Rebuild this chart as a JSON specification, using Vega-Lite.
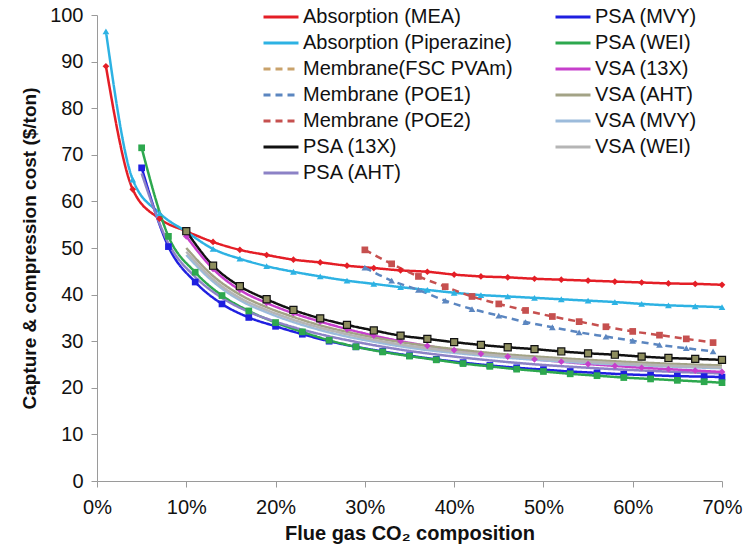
{
  "$schema": "https://vega.github.io/schema/vega-lite/v6.json",
  "width": 625,
  "height": 466,
  "autosize": "none",
  "padding": {"left": 97, "top": 15, "right": 27, "bottom": 75},
  "config": {
    "font": "Liberation Sans",
    "view": {"stroke": null},
    "axis": {"grid": false, "domainColor": "#9a9a9a", "tickColor": "#9a9a9a", "labelColor": "#111", "titleColor": "#111", "labelFontSize": 20, "titleFontWeight": "bold", "tickSize": 6}
  },
  "data": {"values": [
    {"series": "Absorption (MEA)", "co2": 1, "cost": 89},
    {"series": "Absorption (MEA)", "co2": 4, "cost": 62.6},
    {"series": "Absorption (MEA)", "co2": 7, "cost": 56.3},
    {"series": "Absorption (MEA)", "co2": 10, "cost": 53.6},
    {"series": "Absorption (MEA)", "co2": 13, "cost": 51.3},
    {"series": "Absorption (MEA)", "co2": 16, "cost": 49.6},
    {"series": "Absorption (MEA)", "co2": 19, "cost": 48.5},
    {"series": "Absorption (MEA)", "co2": 22, "cost": 47.5},
    {"series": "Absorption (MEA)", "co2": 25, "cost": 46.9},
    {"series": "Absorption (MEA)", "co2": 28, "cost": 46.2},
    {"series": "Absorption (MEA)", "co2": 31, "cost": 45.7},
    {"series": "Absorption (MEA)", "co2": 34, "cost": 45.2},
    {"series": "Absorption (MEA)", "co2": 37, "cost": 44.9},
    {"series": "Absorption (MEA)", "co2": 40, "cost": 44.3},
    {"series": "Absorption (MEA)", "co2": 43, "cost": 43.9},
    {"series": "Absorption (MEA)", "co2": 46, "cost": 43.7},
    {"series": "Absorption (MEA)", "co2": 49, "cost": 43.4},
    {"series": "Absorption (MEA)", "co2": 52, "cost": 43.2},
    {"series": "Absorption (MEA)", "co2": 55, "cost": 43.0},
    {"series": "Absorption (MEA)", "co2": 58, "cost": 42.8},
    {"series": "Absorption (MEA)", "co2": 61, "cost": 42.6},
    {"series": "Absorption (MEA)", "co2": 64, "cost": 42.4},
    {"series": "Absorption (MEA)", "co2": 67, "cost": 42.3},
    {"series": "Absorption (MEA)", "co2": 70, "cost": 42.1},
    {"series": "Absorption (Piperazine)", "co2": 1, "cost": 96.5},
    {"series": "Absorption (Piperazine)", "co2": 4, "cost": 64.7},
    {"series": "Absorption (Piperazine)", "co2": 7, "cost": 57.5},
    {"series": "Absorption (Piperazine)", "co2": 10, "cost": 53.5},
    {"series": "Absorption (Piperazine)", "co2": 13, "cost": 49.8},
    {"series": "Absorption (Piperazine)", "co2": 16, "cost": 47.7},
    {"series": "Absorption (Piperazine)", "co2": 19, "cost": 46.1},
    {"series": "Absorption (Piperazine)", "co2": 22, "cost": 44.9},
    {"series": "Absorption (Piperazine)", "co2": 25, "cost": 43.9},
    {"series": "Absorption (Piperazine)", "co2": 28, "cost": 43.0},
    {"series": "Absorption (Piperazine)", "co2": 31, "cost": 42.3},
    {"series": "Absorption (Piperazine)", "co2": 34, "cost": 41.6},
    {"series": "Absorption (Piperazine)", "co2": 37, "cost": 41.0},
    {"series": "Absorption (Piperazine)", "co2": 40, "cost": 40.4},
    {"series": "Absorption (Piperazine)", "co2": 43, "cost": 39.9},
    {"series": "Absorption (Piperazine)", "co2": 46, "cost": 39.6},
    {"series": "Absorption (Piperazine)", "co2": 49, "cost": 39.3},
    {"series": "Absorption (Piperazine)", "co2": 52, "cost": 39.0},
    {"series": "Absorption (Piperazine)", "co2": 55, "cost": 38.7},
    {"series": "Absorption (Piperazine)", "co2": 58, "cost": 38.4},
    {"series": "Absorption (Piperazine)", "co2": 61, "cost": 38.0},
    {"series": "Absorption (Piperazine)", "co2": 64, "cost": 37.7},
    {"series": "Absorption (Piperazine)", "co2": 67, "cost": 37.5},
    {"series": "Absorption (Piperazine)", "co2": 70, "cost": 37.3},
    {"series": "Membrane (POE2)", "co2": 30, "cost": 49.6},
    {"series": "Membrane (POE2)", "co2": 33, "cost": 46.6},
    {"series": "Membrane (POE2)", "co2": 36, "cost": 43.9},
    {"series": "Membrane (POE2)", "co2": 39, "cost": 41.7},
    {"series": "Membrane (POE2)", "co2": 42, "cost": 39.6},
    {"series": "Membrane (POE2)", "co2": 45, "cost": 38.0},
    {"series": "Membrane (POE2)", "co2": 48, "cost": 36.6},
    {"series": "Membrane (POE2)", "co2": 51, "cost": 35.3},
    {"series": "Membrane (POE2)", "co2": 54, "cost": 34.2},
    {"series": "Membrane (POE2)", "co2": 57, "cost": 33.1},
    {"series": "Membrane (POE2)", "co2": 60, "cost": 32.1},
    {"series": "Membrane (POE2)", "co2": 63, "cost": 31.3},
    {"series": "Membrane (POE2)", "co2": 66, "cost": 30.5},
    {"series": "Membrane (POE2)", "co2": 69, "cost": 29.7},
    {"series": "Membrane (POE1)", "co2": 30, "cost": 45.8},
    {"series": "Membrane (POE1)", "co2": 33, "cost": 43.0},
    {"series": "Membrane (POE1)", "co2": 36, "cost": 41.0},
    {"series": "Membrane (POE1)", "co2": 39, "cost": 38.7},
    {"series": "Membrane (POE1)", "co2": 42, "cost": 36.9},
    {"series": "Membrane (POE1)", "co2": 45, "cost": 35.5},
    {"series": "Membrane (POE1)", "co2": 48, "cost": 34.1},
    {"series": "Membrane (POE1)", "co2": 51, "cost": 33.0},
    {"series": "Membrane (POE1)", "co2": 54, "cost": 31.9},
    {"series": "Membrane (POE1)", "co2": 57, "cost": 31.0},
    {"series": "Membrane (POE1)", "co2": 60, "cost": 30.1},
    {"series": "Membrane (POE1)", "co2": 63, "cost": 29.2},
    {"series": "Membrane (POE1)", "co2": 66, "cost": 28.5},
    {"series": "Membrane (POE1)", "co2": 69, "cost": 27.8},
    {"series": "PSA (13X)", "co2": 10, "cost": 53.6},
    {"series": "PSA (13X)", "co2": 13, "cost": 46.2},
    {"series": "PSA (13X)", "co2": 16, "cost": 41.8},
    {"series": "PSA (13X)", "co2": 19, "cost": 39.0},
    {"series": "PSA (13X)", "co2": 22, "cost": 36.7},
    {"series": "PSA (13X)", "co2": 25, "cost": 34.9},
    {"series": "PSA (13X)", "co2": 28, "cost": 33.5},
    {"series": "PSA (13X)", "co2": 31, "cost": 32.3},
    {"series": "PSA (13X)", "co2": 34, "cost": 31.2},
    {"series": "PSA (13X)", "co2": 37, "cost": 30.5},
    {"series": "PSA (13X)", "co2": 40, "cost": 29.8},
    {"series": "PSA (13X)", "co2": 43, "cost": 29.2},
    {"series": "PSA (13X)", "co2": 46, "cost": 28.7},
    {"series": "PSA (13X)", "co2": 49, "cost": 28.3},
    {"series": "PSA (13X)", "co2": 52, "cost": 27.8},
    {"series": "PSA (13X)", "co2": 55, "cost": 27.4},
    {"series": "PSA (13X)", "co2": 58, "cost": 27.1},
    {"series": "PSA (13X)", "co2": 61, "cost": 26.7},
    {"series": "PSA (13X)", "co2": 64, "cost": 26.4},
    {"series": "PSA (13X)", "co2": 67, "cost": 26.2},
    {"series": "PSA (13X)", "co2": 70, "cost": 26.0},
    {"series": "PSA (MVY)", "co2": 5, "cost": 67.2},
    {"series": "PSA (MVY)", "co2": 8, "cost": 50.3},
    {"series": "PSA (MVY)", "co2": 11, "cost": 42.7},
    {"series": "PSA (MVY)", "co2": 14, "cost": 38.0},
    {"series": "PSA (MVY)", "co2": 17, "cost": 35.1},
    {"series": "PSA (MVY)", "co2": 20, "cost": 33.2},
    {"series": "PSA (MVY)", "co2": 23, "cost": 31.5},
    {"series": "PSA (MVY)", "co2": 26, "cost": 30.0},
    {"series": "PSA (MVY)", "co2": 29, "cost": 28.8},
    {"series": "PSA (MVY)", "co2": 32, "cost": 27.8},
    {"series": "PSA (MVY)", "co2": 35, "cost": 26.9},
    {"series": "PSA (MVY)", "co2": 38, "cost": 26.1},
    {"series": "PSA (MVY)", "co2": 41, "cost": 25.4},
    {"series": "PSA (MVY)", "co2": 44, "cost": 24.8},
    {"series": "PSA (MVY)", "co2": 47, "cost": 24.3},
    {"series": "PSA (MVY)", "co2": 50, "cost": 23.9},
    {"series": "PSA (MVY)", "co2": 53, "cost": 23.5},
    {"series": "PSA (MVY)", "co2": 56, "cost": 23.2},
    {"series": "PSA (MVY)", "co2": 59, "cost": 22.9},
    {"series": "PSA (MVY)", "co2": 62, "cost": 22.7},
    {"series": "PSA (MVY)", "co2": 65, "cost": 22.5},
    {"series": "PSA (MVY)", "co2": 68, "cost": 22.4},
    {"series": "PSA (MVY)", "co2": 70, "cost": 22.3},
    {"series": "PSA (WEI)", "co2": 5, "cost": 71.5},
    {"series": "PSA (WEI)", "co2": 8, "cost": 52.5},
    {"series": "PSA (WEI)", "co2": 11, "cost": 44.8},
    {"series": "PSA (WEI)", "co2": 14, "cost": 39.8},
    {"series": "PSA (WEI)", "co2": 17, "cost": 36.5},
    {"series": "PSA (WEI)", "co2": 20, "cost": 34.0},
    {"series": "PSA (WEI)", "co2": 23, "cost": 32.0},
    {"series": "PSA (WEI)", "co2": 26, "cost": 30.2},
    {"series": "PSA (WEI)", "co2": 29, "cost": 28.8},
    {"series": "PSA (WEI)", "co2": 32, "cost": 27.7},
    {"series": "PSA (WEI)", "co2": 35, "cost": 26.8},
    {"series": "PSA (WEI)", "co2": 38, "cost": 26.0},
    {"series": "PSA (WEI)", "co2": 41, "cost": 25.2},
    {"series": "PSA (WEI)", "co2": 44, "cost": 24.6},
    {"series": "PSA (WEI)", "co2": 47, "cost": 24.0},
    {"series": "PSA (WEI)", "co2": 50, "cost": 23.5},
    {"series": "PSA (WEI)", "co2": 53, "cost": 23.0},
    {"series": "PSA (WEI)", "co2": 56, "cost": 22.6},
    {"series": "PSA (WEI)", "co2": 59, "cost": 22.2},
    {"series": "PSA (WEI)", "co2": 62, "cost": 21.9},
    {"series": "PSA (WEI)", "co2": 65, "cost": 21.6},
    {"series": "PSA (WEI)", "co2": 68, "cost": 21.3},
    {"series": "PSA (WEI)", "co2": 70, "cost": 21.1},
    {"series": "PSA (AHT)", "co2": 5, "cost": 66},
    {"series": "PSA (AHT)", "co2": 8, "cost": 51},
    {"series": "PSA (AHT)", "co2": 11, "cost": 43.8},
    {"series": "PSA (AHT)", "co2": 14, "cost": 39.3},
    {"series": "PSA (AHT)", "co2": 17, "cost": 36.3},
    {"series": "PSA (AHT)", "co2": 20, "cost": 34.2},
    {"series": "PSA (AHT)", "co2": 25, "cost": 31.5},
    {"series": "PSA (AHT)", "co2": 30, "cost": 29.5},
    {"series": "PSA (AHT)", "co2": 35, "cost": 27.9},
    {"series": "PSA (AHT)", "co2": 40, "cost": 26.7},
    {"series": "PSA (AHT)", "co2": 45, "cost": 25.7},
    {"series": "PSA (AHT)", "co2": 50, "cost": 24.9},
    {"series": "PSA (AHT)", "co2": 55, "cost": 24.3},
    {"series": "PSA (AHT)", "co2": 60, "cost": 23.8},
    {"series": "PSA (AHT)", "co2": 65, "cost": 23.4},
    {"series": "PSA (AHT)", "co2": 70, "cost": 23.1},
    {"series": "VSA (13X)", "co2": 10, "cost": 52.5},
    {"series": "VSA (13X)", "co2": 13, "cost": 45.5},
    {"series": "VSA (13X)", "co2": 16, "cost": 41.0},
    {"series": "VSA (13X)", "co2": 19, "cost": 38.2},
    {"series": "VSA (13X)", "co2": 22, "cost": 36.0},
    {"series": "VSA (13X)", "co2": 25, "cost": 34.2},
    {"series": "VSA (13X)", "co2": 28, "cost": 32.6},
    {"series": "VSA (13X)", "co2": 31, "cost": 31.2},
    {"series": "VSA (13X)", "co2": 34, "cost": 30.0},
    {"series": "VSA (13X)", "co2": 37, "cost": 29.0},
    {"series": "VSA (13X)", "co2": 40, "cost": 28.1},
    {"series": "VSA (13X)", "co2": 43, "cost": 27.3},
    {"series": "VSA (13X)", "co2": 46, "cost": 26.7},
    {"series": "VSA (13X)", "co2": 49, "cost": 26.1},
    {"series": "VSA (13X)", "co2": 52, "cost": 25.6},
    {"series": "VSA (13X)", "co2": 55, "cost": 25.1},
    {"series": "VSA (13X)", "co2": 58, "cost": 24.7},
    {"series": "VSA (13X)", "co2": 61, "cost": 24.3},
    {"series": "VSA (13X)", "co2": 64, "cost": 24.0},
    {"series": "VSA (13X)", "co2": 67, "cost": 23.7},
    {"series": "VSA (13X)", "co2": 70, "cost": 23.4},
    {"series": "VSA (AHT)", "co2": 10, "cost": 50},
    {"series": "VSA (AHT)", "co2": 13, "cost": 44},
    {"series": "VSA (AHT)", "co2": 16, "cost": 40},
    {"series": "VSA (AHT)", "co2": 19, "cost": 37.3},
    {"series": "VSA (AHT)", "co2": 22, "cost": 35.2},
    {"series": "VSA (AHT)", "co2": 25, "cost": 33.4},
    {"series": "VSA (AHT)", "co2": 28, "cost": 32.0},
    {"series": "VSA (AHT)", "co2": 31, "cost": 30.8},
    {"series": "VSA (AHT)", "co2": 34, "cost": 29.8},
    {"series": "VSA (AHT)", "co2": 37, "cost": 29.0},
    {"series": "VSA (AHT)", "co2": 40, "cost": 28.3},
    {"series": "VSA (AHT)", "co2": 45, "cost": 27.3},
    {"series": "VSA (AHT)", "co2": 50, "cost": 26.6},
    {"series": "VSA (AHT)", "co2": 55, "cost": 26.0},
    {"series": "VSA (AHT)", "co2": 60, "cost": 25.5},
    {"series": "VSA (AHT)", "co2": 65, "cost": 25.1},
    {"series": "VSA (AHT)", "co2": 70, "cost": 24.8},
    {"series": "VSA (MVY)", "co2": 10, "cost": 48.5},
    {"series": "VSA (MVY)", "co2": 13, "cost": 42.8},
    {"series": "VSA (MVY)", "co2": 16, "cost": 38.8},
    {"series": "VSA (MVY)", "co2": 19, "cost": 36.2},
    {"series": "VSA (MVY)", "co2": 22, "cost": 34.1},
    {"series": "VSA (MVY)", "co2": 25, "cost": 32.4},
    {"series": "VSA (MVY)", "co2": 28, "cost": 31.0},
    {"series": "VSA (MVY)", "co2": 31, "cost": 29.9},
    {"series": "VSA (MVY)", "co2": 34, "cost": 28.9},
    {"series": "VSA (MVY)", "co2": 37, "cost": 28.1},
    {"series": "VSA (MVY)", "co2": 40, "cost": 27.5},
    {"series": "VSA (MVY)", "co2": 45, "cost": 26.6},
    {"series": "VSA (MVY)", "co2": 50, "cost": 25.9},
    {"series": "VSA (MVY)", "co2": 55, "cost": 25.3},
    {"series": "VSA (MVY)", "co2": 60, "cost": 24.9},
    {"series": "VSA (MVY)", "co2": 65, "cost": 24.5},
    {"series": "VSA (MVY)", "co2": 70, "cost": 24.2},
    {"series": "VSA (WEI)", "co2": 10, "cost": 49.2},
    {"series": "VSA (WEI)", "co2": 13, "cost": 43.3},
    {"series": "VSA (WEI)", "co2": 16, "cost": 39.3},
    {"series": "VSA (WEI)", "co2": 19, "cost": 36.7},
    {"series": "VSA (WEI)", "co2": 22, "cost": 34.6},
    {"series": "VSA (WEI)", "co2": 25, "cost": 32.9},
    {"series": "VSA (WEI)", "co2": 28, "cost": 31.5},
    {"series": "VSA (WEI)", "co2": 31, "cost": 30.3},
    {"series": "VSA (WEI)", "co2": 34, "cost": 29.3},
    {"series": "VSA (WEI)", "co2": 37, "cost": 28.5},
    {"series": "VSA (WEI)", "co2": 40, "cost": 27.8},
    {"series": "VSA (WEI)", "co2": 45, "cost": 26.9},
    {"series": "VSA (WEI)", "co2": 50, "cost": 26.2},
    {"series": "VSA (WEI)", "co2": 55, "cost": 25.6},
    {"series": "VSA (WEI)", "co2": 60, "cost": 25.1},
    {"series": "VSA (WEI)", "co2": 65, "cost": 24.7},
    {"series": "VSA (WEI)", "co2": 70, "cost": 24.4}
  ]},
  "encoding": {
    "x": {"field": "co2", "type": "quantitative", "scale": {"domain": [0, 70], "nice": false, "zero": false},
      "axis": {"values": [0, 10, 20, 30, 40, 50, 60, 70], "labelExpr": "datum.value + '%'", "labelPadding": 10, "labelFlush": false, "titleFontSize": 20, "titlePadding": 6},
      "title": "Flue gas CO₂ composition"},
    "y": {"field": "cost", "type": "quantitative", "scale": {"domain": [0, 100], "nice": false},
      "axis": {"values": [0, 10, 20, 30, 40, 50, 60, 70, 80, 90, 100], "labelPadding": 8, "titleFontSize": 19, "titlePadding": 10},
      "title": "Capture & compression cost  ($/ton)"}
  },
  "layer": [
    {
      "mark": {"type": "line", "interpolate": "monotone", "strokeWidth": 2.5},
      "encoding": {
        "color": {"field": "series", "type": "nominal",
          "scale": {
            "domain": ["Absorption (MEA)", "Absorption (Piperazine)", "Membrane(FSC PVAm)", "Membrane (POE1)", "Membrane (POE2)", "PSA (13X)", "PSA (AHT)", "PSA (MVY)", "PSA (WEI)", "VSA (13X)", "VSA (AHT)", "VSA (MVY)", "VSA (WEI)"],
            "range": ["#E41E26", "#2DB2E3", "#C9A26B", "#5B86C0", "#C6504F", "#111111", "#8C82C6", "#1F1FE0", "#2DA84E", "#C63FCB", "#A3A386", "#9CBBDB", "#B5B5B5"]
          },
          "legend": {"orient": "none", "legendX": 174, "legendY": -8, "columns": 2, "columnPadding": 36, "rowPadding": 6, "labelFontSize": 20, "labelOffset": 12, "labelColor": "#111", "labelLimit": 300, "symbolType": "M-2.5,0H2.5", "symbolSize": 196, "symbolStrokeWidth": 3, "title": null, "padding": 0}
        },
        "strokeDash": {"field": "series", "type": "nominal",
          "scale": {
            "domain": ["Absorption (MEA)", "Absorption (Piperazine)", "Membrane(FSC PVAm)", "Membrane (POE1)", "Membrane (POE2)", "PSA (13X)", "PSA (AHT)", "PSA (MVY)", "PSA (WEI)", "VSA (13X)", "VSA (AHT)", "VSA (MVY)", "VSA (WEI)"],
            "range": [[1, 0], [1, 0], [7, 5], [7, 5], [7, 5], [1, 0], [1, 0], [1, 0], [1, 0], [1, 0], [1, 0], [1, 0], [1, 0]]
          }
        }
      }
    },
    {
      "transform": [{"filter": {"field": "series", "oneOf": ["Absorption (MEA)", "Absorption (Piperazine)", "Membrane (POE1)", "Membrane (POE2)", "PSA (MVY)", "PSA (WEI)", "VSA (13X)"]}}],
      "mark": {"type": "point", "filled": true, "opacity": 1, "size": 45},
      "encoding": {
        "color": {"field": "series", "type": "nominal"},
        "shape": {"field": "series", "type": "nominal", "legend": null,
          "scale": {"domain": ["Absorption (MEA)", "Absorption (Piperazine)", "Membrane (POE1)", "Membrane (POE2)", "PSA (MVY)", "PSA (WEI)", "VSA (13X)"],
            "range": ["diamond", "triangle-up", "triangle-up", "square", "square", "square", "diamond"]}}
      }
    },
    {
      "transform": [{"filter": {"field": "series", "equal": "PSA (13X)"}}],
      "mark": {"type": "point", "shape": "square", "filled": true, "fill": "#8E8E5E", "stroke": "#111111", "strokeWidth": 1.2, "size": 50, "opacity": 1},
      "encoding": {}
    }
  ]
}
